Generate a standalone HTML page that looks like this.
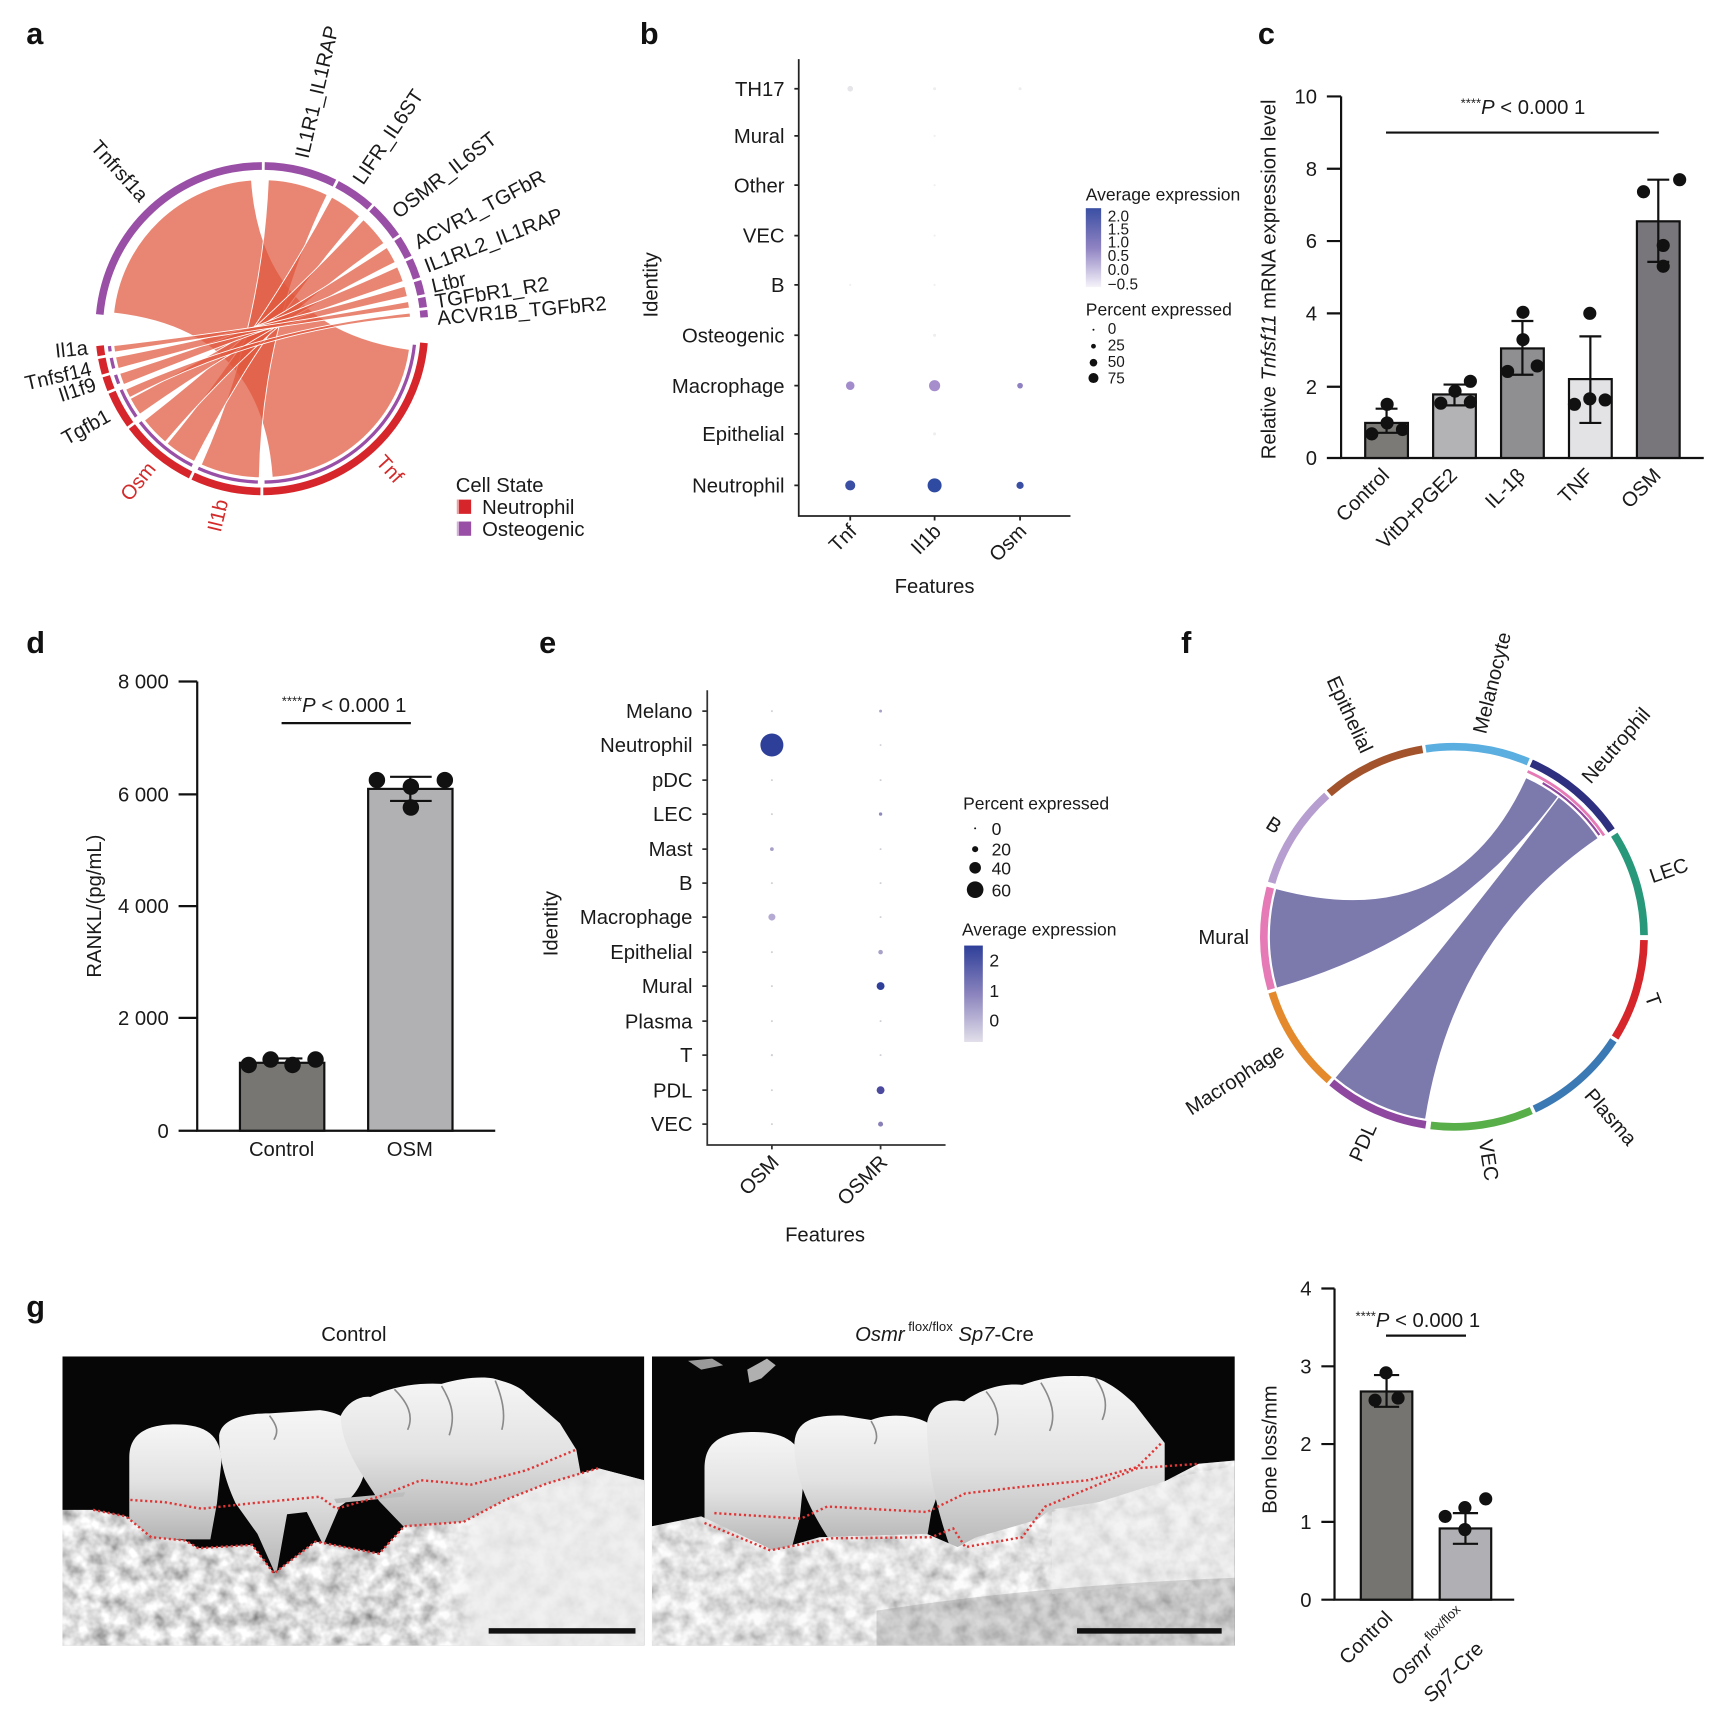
<!DOCTYPE html>
<html><head><meta charset="utf-8"><style>
html,body{margin:0;padding:0;background:#fff;}
svg{display:block;}
text{font-family:"Liberation Sans",Arial,sans-serif;fill:#1a1a1a;}
.lab{font-size:28px;font-weight:bold;fill:#111;}
.t{font-size:18.5px;}
.s{font-size:16px;}
.n{font-size:14px;}
.red{fill:#d42a2a;}
</style></head><body>
<svg id="S" width="1718" height="1718" viewBox="0 0 1568 1568" xmlns="http://www.w3.org/2000/svg">
<defs>
<linearGradient id="cb1" x1="0" y1="0" x2="0" y2="1"><stop offset="0" stop-color="#3a4fa3"/><stop offset="0.5" stop-color="#8f82c2"/><stop offset="1" stop-color="#f6f3fa"/></linearGradient>
<linearGradient id="cb2" x1="0" y1="0" x2="0" y2="1"><stop offset="0" stop-color="#2e3f99"/><stop offset="0.5" stop-color="#8a83bd"/><stop offset="1" stop-color="#e2dfea"/></linearGradient>
<linearGradient id="tg" x1="0" y1="0" x2="0" y2="1"><stop offset="0" stop-color="#f6f6f6"/><stop offset="0.5" stop-color="#e2e2e2"/><stop offset="1" stop-color="#b4b4b4"/></linearGradient>
<linearGradient id="lt" x1="0" y1="0" x2="1" y2="0"><stop offset="0" stop-color="#fff" stop-opacity="0"/><stop offset="0.62" stop-color="#fff" stop-opacity="0"/><stop offset="0.72" stop-color="#ededed" stop-opacity="0.85"/><stop offset="1" stop-color="#ededed" stop-opacity="0.85"/></linearGradient>
<filter id="tex" x="0" y="0" width="1" height="1"><feTurbulence type="fractalNoise" baseFrequency="0.07" numOctaves="3" seed="7"/><feColorMatrix values="1.2 0 0 0 0.12  1.2 0 0 0 0.12  1.2 0 0 0 0.12  0 0 0 0 1"/></filter>
<clipPath id="ph1"><rect x="57" y="1238" width="531" height="264"/></clipPath>
<clipPath id="ph2"><rect x="595" y="1238" width="532" height="264"/></clipPath>
<clipPath id="bone1"><path d="M57,1378 L85,1378 L115,1384 L138,1403 L169,1406 L181,1413 L230,1410 L250,1436 L288,1407 L346,1418 L369,1393 L423,1389 L461,1369 L499,1354 L546,1340 L588,1351 L588,1502 L57,1502 Z"/></clipPath>
<clipPath id="bone2"><path d="M595,1393 L640,1384 L706,1415 L748,1403 L846,1400 L874,1412 L891,1403 L947,1387 L958,1378 L1003,1371 L1063,1352 L1094,1336 L1127,1333 L1127,1502 L595,1502 Z"/></clipPath>
</defs>

<!-- panel labels -->
<text class="lab" x="24" y="40">a</text>
<text class="lab" x="584" y="40">b</text>
<text class="lab" x="1148" y="40">c</text>
<text class="lab" x="24" y="596">d</text>
<text class="lab" x="492" y="596">e</text>
<text class="lab" x="1078" y="596">f</text>
<text class="lab" x="24" y="1202">g</text>

<!-- ===== Panel a ===== -->
<g id="achord"></g>
<g id="aring"></g>
<g class="t">
<text transform="translate(132,181) rotate(48)" text-anchor="end" dy="0.35em">Tnfrsf1a</text>
<text transform="translate(275,144) rotate(-77)" dy="0.35em">IL1R1_IL1RAP</text>
<text transform="translate(326,166) rotate(-56)" dy="0.35em">LIFR_IL6ST</text>
<text transform="translate(360,195) rotate(-38)" dy="0.35em">OSMR_IL6ST</text>
<text transform="translate(379,222) rotate(-28)" dy="0.35em">ACVR1_TGFbR</text>
<text transform="translate(388,243) rotate(-21)" dy="0.35em">IL1RL2_IL1RAP</text>
<text transform="translate(394,261) rotate(-13)" dy="0.35em">Ltbr</text>
<text transform="translate(397,275) rotate(-9)" dy="0.35em">TGFbR1_R2</text>
<text transform="translate(399,290) rotate(-5)" dy="0.35em">ACVR1B_TGFbR2</text>
<text transform="translate(80,317) rotate(-6)" text-anchor="end" dy="0.35em">Il1a</text>
<text transform="translate(83,336) rotate(-13)" text-anchor="end" dy="0.35em">Tnfsf14</text>
<text transform="translate(87,350) rotate(-18)" text-anchor="end" dy="0.35em">Il1f9</text>
<text transform="translate(99,378) rotate(-29)" text-anchor="end" dy="0.35em">Tgfb1</text>
<text class="red" transform="translate(138,424) rotate(-51)" text-anchor="end" dy="0.35em">Osm</text>
<text class="red" transform="translate(202,456) rotate(-76.5)" text-anchor="end" dy="0.35em">Il1b</text>
<text class="red" transform="translate(347,418) rotate(47.5)" dy="0.35em">Tnf</text>
<text x="416" y="449">Cell State</text>
<text x="440" y="469">Neutrophil</text>
<text x="440" y="489">Osteogenic</text>
</g>
<rect x="417" y="456" width="13" height="13" fill="#d6262b"/>
<rect x="417" y="476" width="13" height="13" fill="#9a4fa6"/>
<line x1="418" y1="456" x2="418" y2="469" stroke="#fff" stroke-width="1"/>
<line x1="418" y1="476" x2="418" y2="489" stroke="#fff" stroke-width="1"/>

<!-- ===== Panel b ===== -->
<g stroke="#222" stroke-width="1.6" fill="none">
<path d="M729,54 V471 H977"/>
<path d="M725,81H729M725,124H729M725,169H729M725,215H729M725,260H729M725,306H729M725,352H729M725,396H729M725,443H729"/>
<path d="M776,471V475M853,471V475M931,471V475"/>
</g>
<g class="t" text-anchor="end">
<text x="716" y="81" dy="0.35em">TH17</text>
<text x="716" y="124" dy="0.35em">Mural</text>
<text x="716" y="169" dy="0.35em">Other</text>
<text x="716" y="215" dy="0.35em">VEC</text>
<text x="716" y="260" dy="0.35em">B</text>
<text x="716" y="306" dy="0.35em">Osteogenic</text>
<text x="716" y="352" dy="0.35em">Macrophage</text>
<text x="716" y="396" dy="0.35em">Epithelial</text>
<text x="716" y="443" dy="0.35em">Neutrophil</text>
<text transform="translate(783,486) rotate(-45)">Tnf</text>
<text transform="translate(860,486) rotate(-45)">Il1b</text>
<text transform="translate(938,486) rotate(-45)">Osm</text>
</g>
<text class="t" x="853" y="541" text-anchor="middle">Features</text>
<text class="t" transform="translate(600,260) rotate(-90)" text-anchor="middle">Identity</text>
<g>
<circle cx="776" cy="81" r="2.6" fill="#e6e6ea"/>
<circle cx="853" cy="81" r="1.4" fill="#eee"/>
<circle cx="931" cy="81" r="1.4" fill="#eee"/>
<circle cx="853" cy="124" r="1" fill="#f0f0f0"/>
<circle cx="853" cy="169" r="1" fill="#f0f0f0"/>
<circle cx="853" cy="215" r="1" fill="#f0f0f0"/>
<circle cx="776" cy="260" r="1" fill="#f0f0f0"/>
<circle cx="853" cy="260" r="1" fill="#f0f0f0"/>
<circle cx="853" cy="306" r="1.4" fill="#eee"/>
<circle cx="853" cy="396" r="1.4" fill="#eee"/>
<circle cx="776" cy="352" r="3.9" fill="#a28ccb"/>
<circle cx="853" cy="352" r="5.1" fill="#a68dcb"/>
<circle cx="931" cy="352" r="2.6" fill="#8f80c2"/>
<circle cx="776" cy="443" r="4.6" fill="#3a4ea3"/>
<circle cx="853" cy="443" r="6.4" fill="#2e4aa1"/>
<circle cx="931" cy="443" r="3.3" fill="#3a4ea3"/>
</g>
<text class="s" x="991" y="183">Average expression</text>
<rect x="991" y="190" width="14" height="72" fill="url(#cb1)"/>
<g class="n">
<text x="1011" y="202">2.0</text>
<text x="1011" y="214">1.5</text>
<text x="1011" y="226">1.0</text>
<text x="1011" y="238">0.5</text>
<text x="1011" y="251">0.0</text>
<text x="1011" y="264">−0.5</text>
</g>
<text class="s" x="991" y="288">Percent expressed</text>
<circle cx="998" cy="301" r="0.9" fill="#111"/>
<circle cx="998" cy="316" r="2.2" fill="#111"/>
<circle cx="998" cy="331" r="3.5" fill="#111"/>
<circle cx="998" cy="345" r="4.6" fill="#111"/>
<g class="n">
<text x="1011" y="305">0</text>
<text x="1011" y="320">25</text>
<text x="1011" y="335">50</text>
<text x="1011" y="350">75</text>
</g>

<!-- ===== Panel c ===== -->
<g stroke="#111" stroke-width="2" fill="none">
<path d="M1224,88 V418 H1555"/>
<path d="M1211,88H1224M1211,154H1224M1211,220H1224M1211,286H1224M1211,353H1224M1211,418H1224"/>
</g>
<g class="t" text-anchor="end">
<text x="1202" y="88" dy="0.35em">10</text>
<text x="1202" y="154" dy="0.35em">8</text>
<text x="1202" y="220" dy="0.35em">6</text>
<text x="1202" y="286" dy="0.35em">4</text>
<text x="1202" y="353" dy="0.35em">2</text>
<text x="1202" y="418" dy="0.35em">0</text>
</g>
<text class="t" transform="translate(1164,255) rotate(-90)" text-anchor="middle">Relative <tspan font-style="italic">Tnfsf11</tspan>  mRNA expression level</text>
<g stroke="#111" stroke-width="2">
<rect x="1246" y="386" width="39" height="32" fill="#7b7a76"/>
<rect x="1308" y="360" width="39" height="58" fill="#b3b3b6"/>
<rect x="1370" y="318" width="39" height="100" fill="#8f8e91"/>
<rect x="1432" y="346" width="39" height="72" fill="#e3e3e5"/>
<rect x="1494" y="202" width="39" height="216" fill="#78767a"/>
</g>
<g stroke="#111" stroke-width="2" fill="none">
<path d="M1265.5,373V395M1255.5,373H1275.5M1255.5,395H1275.5"/>
<path d="M1327.5,351V370M1317.5,351H1337.5M1317.5,370H1337.5"/>
<path d="M1389.5,293V342M1379.5,293H1399.5M1379.5,342H1399.5"/>
<path d="M1451.5,307V386M1441.5,307H1461.5M1441.5,386H1461.5"/>
<path d="M1513.5,164V239M1503.5,164H1523.5M1503.5,239H1523.5"/>
<path d="M1265,121H1514"/>
</g>
<g fill="#111">
<circle cx="1266" cy="369" r="6"/><circle cx="1266" cy="386" r="6"/><circle cx="1252" cy="396" r="6"/><circle cx="1280" cy="392" r="6"/>
<circle cx="1328" cy="357" r="6"/><circle cx="1315" cy="368" r="6"/><circle cx="1342" cy="348" r="6"/><circle cx="1342" cy="367" r="6"/>
<circle cx="1390" cy="285" r="6"/><circle cx="1390" cy="310" r="6"/><circle cx="1376" cy="339" r="6"/><circle cx="1403" cy="334" r="6"/>
<circle cx="1451" cy="286" r="6"/><circle cx="1437" cy="369" r="6"/><circle cx="1451" cy="364" r="6"/><circle cx="1465" cy="365" r="6"/>
<circle cx="1500" cy="175" r="6"/><circle cx="1533" cy="164" r="6"/><circle cx="1518" cy="224" r="6"/><circle cx="1518" cy="243" r="6"/>
</g>
<text class="t" x="1390" y="104" text-anchor="middle"><tspan font-size="12" dy="-6">****</tspan><tspan font-style="italic" dy="6">P</tspan> &lt; 0.000 1</text>
<g class="t" text-anchor="end">
<text transform="translate(1269,435) rotate(-45)">Control</text>
<text transform="translate(1331,435) rotate(-45)">VitD+PGE2</text>
<text transform="translate(1393,435) rotate(-45)">IL-1β</text>
<text transform="translate(1455,435) rotate(-45)">TNF</text>
<text transform="translate(1517,435) rotate(-45)">OSM</text>
</g>

<!-- ===== Panel d ===== -->
<g stroke="#111" stroke-width="2" fill="none">
<path d="M180,622 V1032 H452"/>
<path d="M163,622H180M163,725H180M163,827H180M163,929H180M163,1032H180"/>
</g>
<g class="t" text-anchor="end">
<text x="154" y="622" dy="0.35em">8 000</text>
<text x="154" y="725" dy="0.35em">6 000</text>
<text x="154" y="827" dy="0.35em">4 000</text>
<text x="154" y="929" dy="0.35em">2 000</text>
<text x="154" y="1032" dy="0.35em">0</text>
</g>
<text class="t" transform="translate(92,827) rotate(-90)" text-anchor="middle">RANKL/(pg/mL)</text>
<g stroke="#111" stroke-width="2">
<rect x="219" y="970" width="77" height="62" fill="#777672"/>
<rect x="336" y="720" width="77" height="312" fill="#b1b1b3"/>
</g>
<g stroke="#111" stroke-width="2" fill="none">
<path d="M240,966H276M374.5,709V731M356,709H394M356,731H394"/>
<path d="M257,660H375"/>
</g>
<g fill="#111">
<circle cx="227" cy="972" r="7.5"/><circle cx="247" cy="967" r="7.5"/><circle cx="267" cy="972" r="7.5"/><circle cx="288" cy="967" r="7.5"/>
<circle cx="344" cy="712" r="7.5"/><circle cx="375" cy="718" r="7.5"/><circle cx="406" cy="712" r="7.5"/><circle cx="375" cy="737" r="7.5"/>
</g>
<text class="t" x="314" y="650" text-anchor="middle"><tspan font-size="12" dy="-6">****</tspan><tspan font-style="italic" dy="6">P</tspan> &lt; 0.000 1</text>
<text class="t" x="257" y="1055" text-anchor="middle">Control</text>
<text class="t" x="374" y="1055" text-anchor="middle">OSM</text>

<!-- ===== Panel e ===== -->
<g stroke="#333" stroke-width="1.6" fill="none">
<path d="M645.5,630 V1045 H863"/>
<path d="M641,649H645M641,680H645M641,712H645M641,743H645M641,775H645M641,806H645M641,837H645M641,869H645M641,900H645M641,932H645M641,963H645M641,995H645M641,1026H645"/>
<path d="M704.5,1045V1049M803.7,1045V1049"/>
</g>
<g class="t" text-anchor="end">
<text x="632" y="649" dy="0.35em">Melano</text>
<text x="632" y="680" dy="0.35em">Neutrophil</text>
<text x="632" y="712" dy="0.35em">pDC</text>
<text x="632" y="743" dy="0.35em">LEC</text>
<text x="632" y="775" dy="0.35em">Mast</text>
<text x="632" y="806" dy="0.35em">B</text>
<text x="632" y="837" dy="0.35em">Macrophage</text>
<text x="632" y="869" dy="0.35em">Epithelial</text>
<text x="632" y="900" dy="0.35em">Mural</text>
<text x="632" y="932" dy="0.35em">Plasma</text>
<text x="632" y="963" dy="0.35em">T</text>
<text x="632" y="995" dy="0.35em">PDL</text>
<text x="632" y="1026" dy="0.35em">VEC</text>
<text transform="translate(712,1062) rotate(-45)">OSM</text>
<text transform="translate(811,1062) rotate(-45)">OSMR</text>
</g>
<text class="t" x="753" y="1133" text-anchor="middle">Features</text>
<text class="t" transform="translate(509,843) rotate(-90)" text-anchor="middle">Identity</text>
<g fill="#cfcfd6">
<circle cx="704.5" cy="649" r="0.9"/><circle cx="704.5" cy="712" r="0.9"/><circle cx="704.5" cy="743" r="0.9"/><circle cx="704.5" cy="806" r="0.9"/><circle cx="704.5" cy="869" r="0.9"/><circle cx="704.5" cy="900" r="0.9"/><circle cx="704.5" cy="932" r="0.9"/><circle cx="704.5" cy="963" r="1"/><circle cx="704.5" cy="995" r="0.9"/><circle cx="704.5" cy="1026" r="0.9"/>
<circle cx="803.7" cy="680" r="0.9"/><circle cx="803.7" cy="712" r="0.9"/><circle cx="803.7" cy="775" r="0.9"/><circle cx="803.7" cy="806" r="0.9"/><circle cx="803.7" cy="837" r="0.9"/><circle cx="803.7" cy="932" r="0.9"/><circle cx="803.7" cy="963" r="0.9"/>
</g>
<circle cx="704.5" cy="680" r="10.5" fill="#2e3f99"/>
<circle cx="704.5" cy="837" r="3.2" fill="#b5aad3"/>
<circle cx="704.5" cy="775" r="1.7" fill="#a8a0c8"/>
<circle cx="803.7" cy="649" r="1.3" fill="#a8a0c8"/>
<circle cx="803.7" cy="743" r="1.5" fill="#8f8abb"/>
<circle cx="803.7" cy="869" r="2.1" fill="#a9a2c8"/>
<circle cx="803.7" cy="900" r="3.6" fill="#2f3f9a"/>
<circle cx="803.7" cy="995" r="3.6" fill="#4b4a9e"/>
<circle cx="803.7" cy="1026" r="2.3" fill="#8a80b8"/>
<text class="s" x="879" y="739">Percent expressed</text>
<circle cx="890" cy="756" r="0.9" fill="#111"/>
<circle cx="890" cy="775" r="2.8" fill="#111"/>
<circle cx="890" cy="792" r="5.3" fill="#111"/>
<circle cx="890" cy="812" r="7.6" fill="#111"/>
<g class="s">
<text x="905" y="762">0</text>
<text x="905" y="781">20</text>
<text x="905" y="798">40</text>
<text x="905" y="818">60</text>
</g>
<text class="s" x="878" y="854">Average expression</text>
<rect x="880" y="863" width="17" height="88" fill="url(#cb2)"/>
<g class="s">
<text x="903" y="882">2</text>
<text x="903" y="910">1</text>
<text x="903" y="937">0</text>
</g>

<!-- ===== Panel f ===== -->
<g id="fchord"></g>
<g id="fring"></g>
<g class="t">
<text transform="translate(1350,669) rotate(-76)" dy="0.35em">Melanocyte</text>
<text transform="translate(1447,712) rotate(-49)" dy="0.35em">Neutrophil</text>
<text transform="translate(1506,800) rotate(-19)" dy="0.35em">LEC</text>
<text transform="translate(1507,907) rotate(70)" dy="0.35em">T</text>
<text transform="translate(1450,996) rotate(49)" dy="0.35em">Plasma</text>
<text transform="translate(1356,1040) rotate(81)" dy="0.35em">VEC</text>
<text transform="translate(1251,1026) rotate(-66)" text-anchor="end" dy="0.35em">PDL</text>
<text transform="translate(1170,957) rotate(-33)" text-anchor="end" dy="0.35em">Macrophage</text>
<text transform="translate(1140,855)" text-anchor="end" dy="0.35em">Mural</text>
<text transform="translate(1168,756) rotate(32)" text-anchor="end" dy="0.35em">B</text>
<text transform="translate(1248,686) rotate(65)" text-anchor="end" dy="0.35em">Epithelial</text>
</g>

<!-- ===== Panel g ===== -->
<text class="t" x="323" y="1224" text-anchor="middle">Control</text>
<text class="t" x="862" y="1224" text-anchor="middle"><tspan font-style="italic">Osmr</tspan><tspan font-size="12" dy="-9"> flox/flox</tspan><tspan dy="9"> </tspan><tspan font-style="italic">Sp7</tspan>-Cre</text>

<g clip-path="url(#ph1)">
<rect x="57" y="1238" width="531" height="264" fill="#060606"/>
<path d="M118,1405 L118,1330 C118,1308 135,1300 160,1300 C188,1300 202,1310 202,1335 L198,1372 L192,1405 Z" fill="url(#tg)"/>
<path d="M200,1310 C202,1296 220,1290 246,1290 L292,1287 C318,1290 334,1305 334,1336 C332,1355 322,1368 310,1375 L295,1410 L280,1380 L262,1382 L252,1438 L235,1400 L215,1372 C205,1350 200,1330 200,1310 Z" fill="url(#tg)"/>
<path d="M311,1292 C318,1278 330,1274 338,1275 C360,1264 385,1262 403,1263 C420,1258 438,1256 450,1258 C465,1262 475,1266 480,1272 L511,1299 L526,1323 L530,1345 L520,1380 L430,1395 L370,1395 L346,1370 C330,1345 311,1320 311,1292 Z" fill="url(#tg)"/>
<path d="M360,1268 C372,1280 378,1292 372,1305 M403,1265 C412,1280 416,1292 410,1310 M452,1260 C458,1275 462,1290 458,1305 M246,1292 C252,1300 255,1306 250,1314" stroke="#8a8a8a" stroke-width="1.5" fill="none"/>
<path d="M305,1368 L370,1362 L368,1366 L307,1372 Z" fill="#bdbdbd"/>
<g clip-path="url(#bone1)">
<rect x="57" y="1330" width="531" height="172" filter="url(#tex)"/>
<rect x="57" y="1330" width="531" height="172" fill="url(#lt)"/>
</g>
<polyline points="119,1369 150,1371 184,1377 230,1372 292,1366 307,1377 346,1366 384,1351 430,1355 480,1342 526,1323" fill="none" stroke="#e03535" stroke-width="2.2" stroke-dasharray="2 2.5"/>
<polyline points="85,1378 115,1384 138,1403 169,1406 181,1413 230,1410 250,1436 288,1407 346,1418 369,1393 423,1389 461,1369 499,1354 546,1340" fill="none" stroke="#e03535" stroke-width="2.2" stroke-dasharray="2 2.5"/>
<rect x="446" y="1486" width="134" height="5" fill="#111"/>
</g>

<g clip-path="url(#ph2)">
<rect x="595" y="1238" width="532" height="264" fill="#060606"/>
<path d="M628,1242 L650,1240 L660,1246 L640,1250 Z" fill="#9a9a9a"/>
<path d="M682,1250 L700,1240 L708,1246 L695,1258 L684,1262 Z" fill="#b0b0b0"/>
<path d="M643,1415 L643,1340 C643,1315 660,1307 688,1307 C718,1307 734,1318 734,1345 L730,1385 L722,1415 Z" fill="url(#tg)"/>
<path d="M725,1320 C725,1298 740,1291 770,1292 L795,1296 C815,1288 850,1292 858,1310 C864,1335 858,1360 850,1380 L845,1410 L760,1410 C740,1380 725,1350 725,1320 Z" fill="url(#tg)"/>
<path d="M846,1300 C848,1282 862,1276 880,1279 C895,1268 915,1262 933,1264 C950,1258 965,1255 985,1256 C1000,1255 1015,1262 1035,1281 L1063,1317 L1063,1420 L870,1420 C855,1380 846,1340 846,1300 Z" fill="url(#tg)"/>
<path d="M900,1270 C910,1282 914,1295 908,1310 M950,1262 C960,1278 964,1292 958,1306 M1000,1258 C1008,1270 1012,1282 1006,1296 M795,1297 C800,1305 802,1312 798,1318" stroke="#8a8a8a" stroke-width="1.5" fill="none"/>
<g clip-path="url(#bone2)">
<rect x="595" y="1330" width="532" height="172" filter="url(#tex)"/>
<rect x="595" y="1330" width="532" height="172" fill="#f4f4f4" opacity="0.3"/>
<path d="M960,1380 C1030,1360 1080,1345 1127,1338 L1127,1440 C1060,1445 1000,1450 960,1455 Z" fill="#ececec" opacity="0.6"/>
<path d="M800,1470 C900,1455 1000,1445 1127,1440 L1127,1502 L800,1502 Z" fill="#888" opacity="0.3"/>
</g>
<polyline points="652,1381 731,1386 755,1375 846,1380 881,1363 933,1357 993,1351 1038,1339 1061,1316" fill="none" stroke="#e03535" stroke-width="2.2" stroke-dasharray="2 2.5"/>
<polyline points="643,1390 703,1415 759,1404 850,1403 870,1395 881,1412 933,1403 947,1384 954,1375 1038,1340 1094,1336" fill="none" stroke="#e03535" stroke-width="2.2" stroke-dasharray="2 2.5"/>
<rect x="983" y="1486" width="132" height="5" fill="#111"/>
</g>

<!-- g chart -->
<g stroke="#111" stroke-width="2" fill="none">
<path d="M1218,1176 V1460 H1382"/>
<path d="M1206,1176H1218M1206,1247H1218M1206,1318H1218M1206,1389H1218M1206,1460H1218"/>
</g>
<g class="t" text-anchor="end">
<text x="1197" y="1176" dy="0.35em">4</text>
<text x="1197" y="1247" dy="0.35em">3</text>
<text x="1197" y="1318" dy="0.35em">2</text>
<text x="1197" y="1389" dy="0.35em">1</text>
<text x="1197" y="1460" dy="0.35em">0</text>
</g>
<text class="t" transform="translate(1165,1323) rotate(-90)" text-anchor="middle">Bone loss/mm</text>
<g stroke="#111" stroke-width="2">
<rect x="1242" y="1270" width="47" height="190" fill="#767470"/>
<rect x="1314" y="1395" width="47" height="65" fill="#b0b0b4"/>
</g>
<g stroke="#111" stroke-width="2" fill="none">
<path d="M1265.5,1255V1284M1254,1255H1277M1254,1284H1277"/>
<path d="M1337.5,1381V1409M1326,1381H1349M1326,1409H1349"/>
<path d="M1265,1219H1338"/>
</g>
<g fill="#111">
<circle cx="1265" cy="1253" r="6"/><circle cx="1255" cy="1278" r="6"/><circle cx="1276" cy="1276" r="6"/>
<circle cx="1319" cy="1384" r="6"/><circle cx="1337" cy="1376" r="6"/><circle cx="1356" cy="1368" r="6"/><circle cx="1337" cy="1396" r="6"/>
</g>
<text class="t" x="1294" y="1211" text-anchor="middle"><tspan font-size="12" dy="-6">****</tspan><tspan font-style="italic" dy="6">P</tspan> &lt; 0.000 1</text>
<g class="t" text-anchor="end">
<text transform="translate(1272,1478) rotate(-45)">Control</text>
<text transform="translate(1340,1476) rotate(-45)"><tspan font-style="italic">Osmr</tspan><tspan font-size="12" dy="-9"> flox/flox</tspan></text>
<text transform="translate(1355,1506) rotate(-45)"><tspan font-style="italic">Sp7</tspan>-Cre</text>
</g>
</svg>
<script>
(function(){
var NS='http://www.w3.org/2000/svg';
function pt(c,r,a){a=a*Math.PI/180;return [c[0]+r*Math.cos(a),c[1]+r*Math.sin(a)];}
function f(p){return p[0].toFixed(2)+','+p[1].toFixed(2);}
function band(c,r0,r1,a0,a1){var L=(a1-a0)>180?1:0;return 'M'+f(pt(c,r1,a0))+'A'+r1+','+r1+' 0 '+L+' 1 '+f(pt(c,r1,a1))+'L'+f(pt(c,r0,a1))+'A'+r0+','+r0+' 0 '+L+' 0 '+f(pt(c,r0,a0))+'Z';}
function chord(c,ra,a0,a1,rb,b0,b1){var La=(a1-a0)>180?1:0,Lb=(b1-b0)>180?1:0;return 'M'+f(pt(c,ra,a0))+'A'+ra+','+ra+' 0 '+La+' 1 '+f(pt(c,ra,a1))+'Q'+c[0]+','+c[1]+' '+f(pt(c,rb,b0))+'A'+rb+','+rb+' 0 '+Lb+' 1 '+f(pt(c,rb,b1))+'Q'+c[0]+','+c[1]+' '+f(pt(c,ra,a0))+'Z';}
function add(g,d,at){var p=document.createElementNS(NS,'path');p.setAttribute('d',d);for(var k in at)p.setAttribute(k,at[k]);document.getElementById(g).appendChild(p);}
var c=[239,300],P='#9a4fa6',R='#d6262b';
[[185,270],[271,296.5],[297.5,311.5],[312.5,325.5],[326.5,334],[335,342],[343,348],[349,352.5],[353.5,356]].forEach(function(s){add('aring',band(c,145,152,s[0],s[1]),{fill:P});});
[[5,89.5],[90.5,115],[116,143],[144,157],[158,163],[164,169.5],[170.5,174]].forEach(function(s){add('aring',band(c,145,152,s[0],s[1]),{fill:R});add('aring',band(c,138.5,141.5,s[0]+1,s[1]-0.5),{fill:P});});
var CH=[[8,86,186,266],[91,114,272.5,296],[117,129.5,298,311],[130.5,142,313,325],[145,152,327,333.5],[152.5,156,354,355.5],[158,162.5,335.5,341.5],[164.5,169,343.5,347.5],[171,173.5,349.5,352]];
CH.forEach(function(q){add('achord',chord(c,136,q[0],q[1],136,q[2],q[3]),{fill:'#e0583d','fill-opacity':0.72,stroke:'#fff','stroke-width':0.8});});
var cf=[1327,855];
[[261.5,293,'#5aaee0'],[294,326,'#2e2f7e'],[327.5,359.5,'#27987a'],[361,392,'#d6252b'],[33,65,'#3b79b4'],[66,97,'#58ae48'],[98.5,130,'#8f489f'],[131,163,'#e48a2c'],[164,195,'#e67ab6'],[196.5,228,'#b69ed0'],[229,260.5,'#a2532c']].forEach(function(s){add('fring',band(cf,170,177,s[0],s[1]),{fill:s[2]});});
add('fring',band(cf,164,166.5,294,326),{fill:'#e67ab6'});
add('fring',band(cf,161,163,300,325),{fill:'#8f489f'});
add('fchord',chord(cf,159,294.5,306.5,168,164,195),{fill:'#7c79ad'});
add('fchord',chord(cf,159,307,325.5,168,99,130),{fill:'#7c79ad'});
})();
</script>
</body></html>
